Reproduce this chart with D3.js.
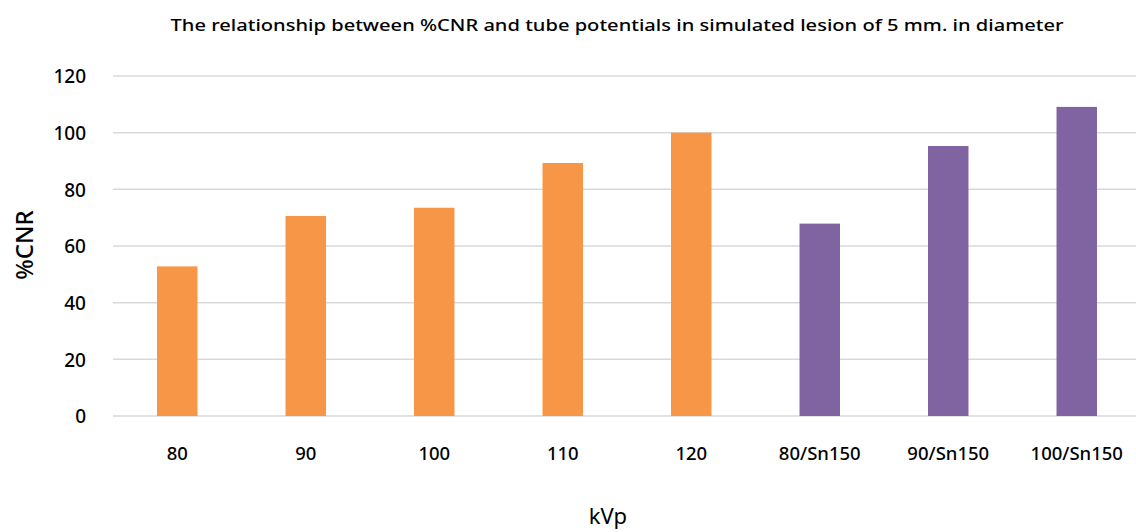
<!DOCTYPE html>
<html>
<head>
<meta charset="utf-8">
<script src="https://cdn.jsdelivr.net/npm/d3@7"></script>
<style>
    body { margin: 0; background: #fff; }
    svg text { font-family: "Noto Sans", "Open Sans", sans-serif; fill: #000; }
</style>
</head>
<body>
<div id="chart"></div>
<script>
// chart data
let categories = ["80", "90", "100", "110", "120", "80/Sn150", "90/Sn150", "100/Sn150"];
let cnrValues = [52.8, 70.6, 73.5, 89.3, 100, 67.9, 95.3, 109.1];
let groups = ["single", "single", "single", "single", "single", "dual", "dual", "dual"];
let yTicks = [0, 20, 40, 60, 80, 100, 120];

let colors = {single: "#F79646", dual: "#8064A2"};

let width = 1136, height = 532;
let margin = {top: 76, right: 0, bottom: 116, left: 113};

let svg = d3.select("#chart").append("svg")
    .attr("width", width)
    .attr("height", height);

let xScale = d3.scaleBand()
    .domain(categories)
    .range([margin.left, 1141])
    .paddingInner(0.685)
    .paddingOuter(0.3425);

let yScale = d3.scaleLinear()
    .domain([0, 120])
    .range([height - margin.bottom, margin.top]);

// gridlines
svg.append("g")
    .selectAll("line")
    .data(yTicks)
    .enter().append("line")
    .attr("x1", margin.left)
    .attr("x2", width)
    .attr("y1", d => yScale(d))
    .attr("y2", d => yScale(d))
    .attr("stroke", "#d9d9d9")
    .attr("stroke-width", 1.5);

// bars
svg.append("g")
    .selectAll("rect")
    .data(categories)
    .enter().append("rect")
    .attr("x", d => xScale(d))
    .attr("width", xScale.bandwidth())
    .attr("y", (d, i) => yScale(cnrValues[i]))
    .attr("height", (d, i) => yScale(0) - yScale(cnrValues[i]))
    .attr("fill", (d, i) => colors[groups[i]]);

// y axis
let yAxis = d3.axisLeft(yScale)
    .tickValues(yTicks)
    .tickSize(0)
    .tickPadding(0);

svg.append("g")
    .attr("transform", "translate(86,0)")
    .call(yAxis)
    .call(g => g.select(".domain").remove())
    .selectAll("text")
    .attr("font-size", 19)
    .attr("font-weight", 500)
    .attr("font-family", null)
    .attr("dy", "0.36em");

// x axis
let xAxis = d3.axisBottom(xScale)
    .tickSize(0)
    .tickPadding(0);

svg.append("g")
    .attr("transform", "translate(0,446)")
    .call(xAxis)
    .call(g => g.select(".domain").remove())
    .selectAll("text")
    .attr("font-size", 18.5)
    .attr("font-weight", 500)
    .attr("font-family", null)
    .attr("dy", "0.36em")
    .attr("y", 7);

// title
svg.append("text")
    .attr("x", 617)
    .attr("y", 31)
    .attr("text-anchor", "middle")
    .attr("font-size", 17)
    .attr("font-weight", 500)
    .attr("textLength", 893)
    .attr("lengthAdjust", "spacingAndGlyphs")
    .text("The relationship between %CNR and tube potentials in simulated lesion of 5 mm. in diameter");

// axis titles
svg.append("text")
    .attr("transform", "translate(33,245) rotate(-90)")
    .attr("text-anchor", "middle")
    .attr("font-size", 24)
    .attr("font-weight", 500)
    .text("%CNR");

svg.append("text")
    .attr("x", 608)
    .attr("y", 524)
    .attr("text-anchor", "middle")
    .attr("font-size", 22)
    .text("kVp");
</script>
</body>
</html>
